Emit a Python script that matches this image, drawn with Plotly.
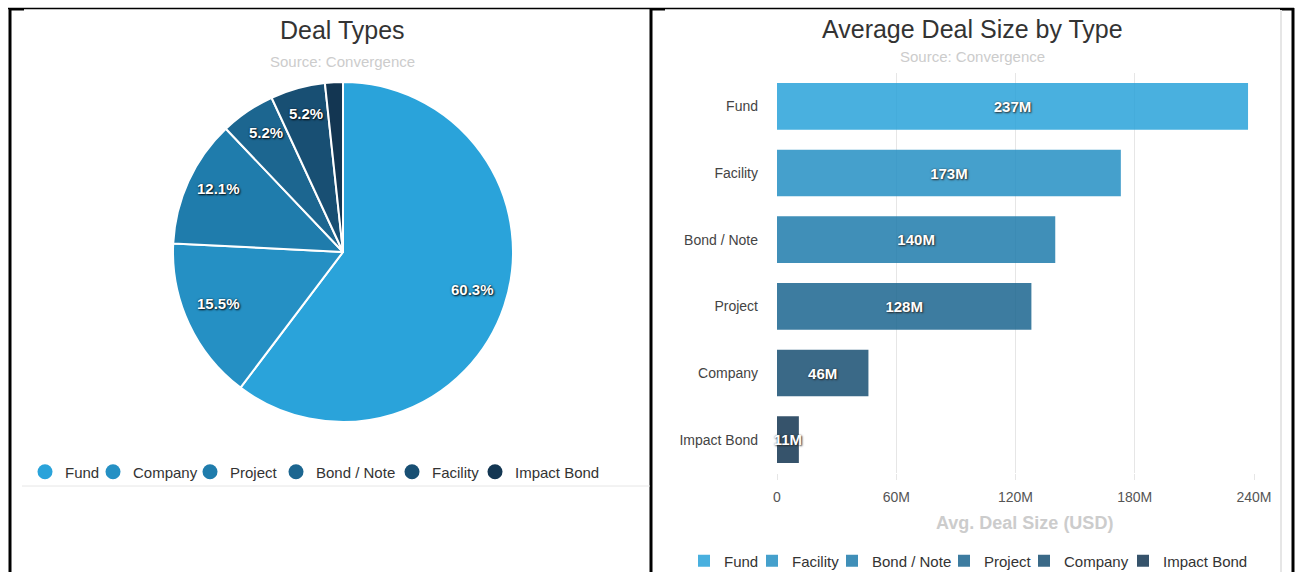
import math
import plotly.graph_objects as go

W, H = 1300, 572

# ---- data ----
pie_types = ["Fund", "Company", "Project", "Bond / Note", "Facility", "Impact Bond"]
pie_share = [60.3, 15.5, 12.1, 5.2, 5.2, 1.7]

bar_types = ["Fund", "Facility", "Bond / Note", "Project", "Company", "Impact Bond"]
bar_avg_size = [237e6, 173e6, 140e6, 128e6, 46e6, 11e6]

x_ticks = [0, 60e6, 120e6, 180e6, 240e6]

palette = ["#2aa3da", "#2590c4", "#1f7cac", "#1c6690", "#184f73", "#133652"]

# legend entry widths (px) so the entries sit close together
pie_legend_widths = [23, 52, 41, 71, 38, 84]
bar_legend_widths = [23, 35, 67, 35, 54, 84]

# ---- geometry (pixels) ----
PIE_CX, PIE_CY, PIE_R = 343, 252, 170
BAR_X0, BAR_X1 = 777, 1254
BAR_Y0, BAR_Y1 = 73, 473


def px(x):
    return x / W


def py(y):
    return 1 - y / H


FONT = "Liberation Sans, Arial, sans-serif"
LABEL_SHADOW = "1px 1px 2px rgba(0,0,0,0.9), 0px 0px 2px rgba(0,0,0,0.6)"

fig = go.Figure()

# pie: deal type shares
fig.add_trace(go.Pie(
    labels=pie_types,
    values=pie_share,
    sort=False,
    direction="clockwise",
    rotation=0,
    textinfo="none",
    marker=dict(colors=palette, line=dict(color="white", width=2)),
    domain=dict(x=[px(PIE_CX - PIE_R), px(PIE_CX + PIE_R)],
                y=[py(PIE_CY + PIE_R), py(PIE_CY - PIE_R)]),
    showlegend=False,
))

# legend entries for the pie (round markers)
for name, col, lw in zip(pie_types, palette, pie_legend_widths):
    fig.add_trace(go.Scatter(
        x=[None], y=[None], mode="markers", name=name,
        marker=dict(symbol="circle", size=15, color=col),
        xaxis="x2", yaxis="y2", legend="legend", legendwidth=lw,
    ))

# bars: average deal size, one series per type
for name, val, col, lw in zip(bar_types, bar_avg_size, palette, bar_legend_widths):
    fig.add_trace(go.Bar(
        x=[val], y=[name], orientation="h", name=name,
        marker=dict(color=col, line=dict(width=0)), opacity=0.85,
        width=0.7,
        texttemplate="%{x:~s}", textposition="inside", insidetextanchor="middle",
        textangle=0, constraintext="none", cliponaxis=False,
        textfont=dict(family=FONT, size=15, color="white", weight="bold",
                      shadow=LABEL_SHADOW),
        legend="legend2", legendwidth=lw,
    ))

annotations = []

# pie slice labels, placed along each slice bisector
total = sum(pie_share)
acc = 0.0
for v in pie_share:
    mid = (acc + v / 2) / total * 2 * math.pi
    acc += v
    if v < 3:
        continue
    r = PIE_R - 33
    lx = PIE_CX + r * math.sin(mid)
    ly = PIE_CY - r * math.cos(mid) - 6
    annotations.append(dict(
        x=px(lx), y=py(ly), xref="paper", yref="paper", showarrow=False,
        text=f"{v:.1f}%", xanchor="center", yanchor="middle",
        font=dict(family=FONT, size=15, color="white", weight="bold",
                  shadow=LABEL_SHADOW),
    ))

# titles, subtitles and the value-axis title
for text, x, y, size, col, weight in [
    ("Deal Types", 342, 30, 25, "#333333", "normal"),
    ("Source: Convergence", 342, 62, 15, "#cccccc", "normal"),
    ("Average Deal Size by Type", 972, 29, 25, "#333333", "normal"),
    ("Source: Convergence", 972, 56, 15, "#cccccc", "normal"),
    ("Avg. Deal Size (USD)", 1024, 523, 18, "#cccccc", "bold"),
]:
    annotations.append(dict(
        x=px(x), y=py(y), xref="paper", yref="paper", showarrow=False,
        text=text, xanchor="center", yanchor="middle",
        font=dict(family=FONT, size=size, color=col, weight=weight),
    ))


def seg(x0, y0, x1, y1, color, width):
    return dict(type="line", xref="paper", yref="paper",
                x0=px(x0), x1=px(x1), y0=py(y0), y1=py(y1),
                line=dict(color=color, width=width), layer="above")


# panel frames
BLACK = "#000000"
shapes = [
    seg(8, 8.5, 1294, 8.5, BLACK, 1.5),
    seg(10, 8, 10, H, BLACK, 3),
    seg(651, 8, 651, H, BLACK, 3),
    seg(1293, 8, 1293, H, BLACK, 3),
    seg(9, 9.5, 24, 9.5, BLACK, 2),
    seg(650, 9.5, 665, 9.5, BLACK, 2),
    seg(1280, 9.5, 1294, 9.5, BLACK, 2),
    seg(1281, 10, 1281, H, "#e6e6e6", 2),
    seg(22, 486, 650, 486, "#e6e6e6", 1),
]

fig.update_layout(
    width=W, height=H,
    margin=dict(l=0, r=0, t=0, b=0, autoexpand=False),
    paper_bgcolor="white", plot_bgcolor="white",
    font=dict(family=FONT, color="#333333"),
    barmode="overlay",
    uniformtext=dict(minsize=15, mode="show"),
    annotations=annotations,
    shapes=shapes,
    xaxis=dict(
        domain=[px(BAR_X0), px(BAR_X1)], range=[0, 240e6],
        tickvals=x_ticks, tickformat="~s",
        showgrid=True, gridcolor="#e6e6e6", gridwidth=1,
        zeroline=False, showline=False,
        ticks="outside", ticklen=6, tickcolor="#e6e6e6",
        tickfont=dict(family=FONT, size=14, color="#555555"),
        ticklabelstandoff=5,
        fixedrange=True,
    ),
    yaxis=dict(
        domain=[py(BAR_Y1), py(BAR_Y0)],
        categoryorder="array", categoryarray=bar_types, autorange="reversed",
        showgrid=False, zeroline=False, showline=False,
        tickfont=dict(family=FONT, size=14, color="#444444"),
        ticklabelstandoff=18,
        fixedrange=True,
    ),
    xaxis2=dict(domain=[0, 0.001], visible=False),
    yaxis2=dict(domain=[0, 0.001], visible=False, anchor="x2"),
    legend=dict(
        orientation="h", xref="container", yref="container",
        x=px(25), y=py(472), xanchor="left", yanchor="middle",
        font=dict(family=FONT, size=15, color="#333333"),
        bgcolor="rgba(0,0,0,0)", itemwidth=30,
    ),
    legend2=dict(
        orientation="h", xref="container", yref="container",
        x=px(684), y=py(561), xanchor="left", yanchor="middle",
        font=dict(family=FONT, size=15, color="#333333"),
        bgcolor="rgba(0,0,0,0)", itemwidth=30,
    ),
)

fig.write_html("out.html")
